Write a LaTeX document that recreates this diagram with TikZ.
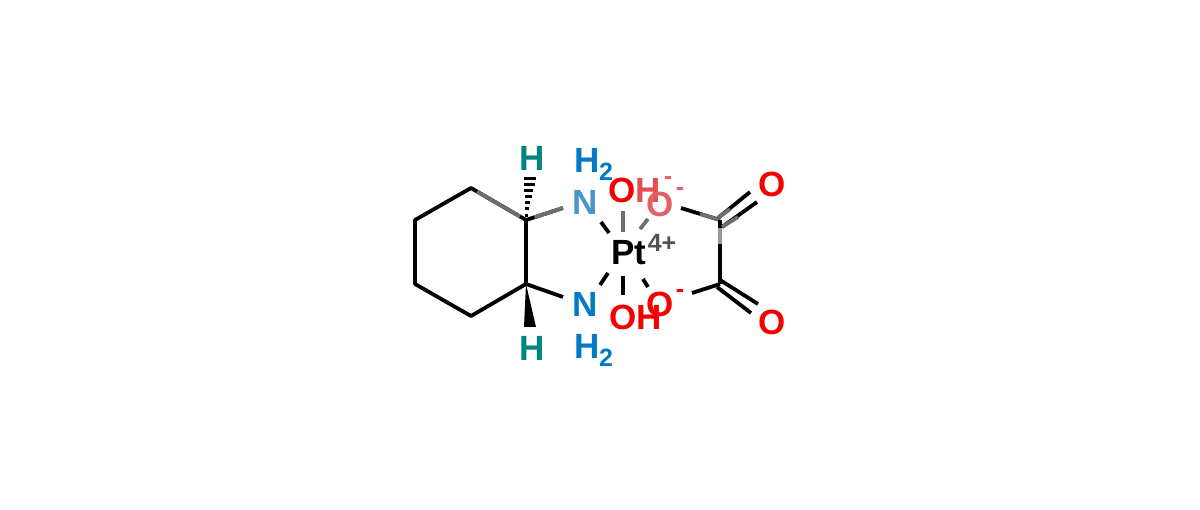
\documentclass[tikz,border=0pt]{standalone}
\usepackage{fontspec}
\usetikzlibrary{calc}
\setmainfont{Liberation Sans}
\definecolor{atomred}{RGB}{245,0,0}
\definecolor{fadedred}{RGB}{226,96,102}
\definecolor{atomblue}{RGB}{0,122,197}
\definecolor{fadedblue}{RGB}{70,150,200}
\definecolor{atomteal}{RGB}{0,132,126}
\definecolor{fadedbond}{RGB}{110,110,110}
\tikzset{
  x=1pt,y=-1pt,
  bond/.style={line width=3.8pt,line cap=butt,line join=round,black},
  fadebond/.style={line width=3.8pt,line cap=butt,fadedbond},
  atom/.style={inner sep=0pt,font=\fontsize{35}{35}\selectfont\bfseries},
  small/.style={inner sep=0pt,font=\fontsize{25}{25}\selectfont\bfseries},
  ends/.style 2 args={shorten <=#1pt,shorten >=#2pt},
}
\begin{document}
\begin{tikzpicture}
\useasboundingbox (0,0) rectangle (1200,510);
\fill[white] (0,0) rectangle (1200,510);
% ring atoms
\coordinate (C1) at (526,220);
\coordinate (C2) at (526,284);
\coordinate (C3) at (471,316);
\coordinate (C4) at (415,284);
\coordinate (C5) at (415,220);
\coordinate (C6) at (471,188);
\coordinate (C7) at (720,220);
\coordinate (C8) at (720,284);
% labels
\node[atom,text=atomteal] (HA) at (532,158) {H};
\node[atom,text=atomteal] (HB) at (532,348) {H};
\node[atom,text=fadedblue] (N1) at (585,202) {N};
\node[atom,text=atomblue] (N2) at (585,304) {N};
\node[atom,text=atomblue] (H2a) at (587,160) {H};
\node[small,text=atomblue] (H2an) at (606,172) {2};
\node[atom,text=atomblue] (H2b) at (587,346) {H};
\node[small,text=atomblue] (H2bn) at (606,358) {2};
\node[atom] (Pt) at (629,253) {Pt};
\node[small,text=black!68] (PtC) at (662,243) {4+};
\node[atom,text=atomred] (OH1) at (635,190) {O\textcolor{fadedred!80!atomred}{H}};
\node[small,text=fadedred] (OH1m) at (668,181) {-};
\node[atom,text=atomred] (OH2) at (636,317) {OH};
\node[atom,text=fadedred] (O1) at (660,204) {O};
\node[small,text=fadedred] (O1m) at (680,192) {-};
\node[atom,text=atomred] (O2) at (660,304) {O};
\node[small,text=atomred] (O2m) at (680,294) {-};
\node[atom,text=atomred] (O3) at (772,184) {O};
\node[atom,text=atomred] (O4) at (772,322) {O};
% ring
\draw[bond] (C1) -- (C2) -- (C3) -- (C4) -- (C5) -- (C6) -- cycle;
\draw[fadebond,ends={7}{7}] (C6) -- (C1);
% stereo wedges
\fill[black] (C2) -- ([shift={(-8,-21)}]HB.center) -- ([shift={(4,-21)}]HB.center) -- cycle;
\foreach \t/\w in {0.08/1.2,0.18/2.0,0.28/2.8,0.38/3.6,0.48/4.4,0.58/5.2,0.67/6.2}{
  \fill[black] ($(C1)!\t!(HA.center)$) ++(-\w,-1.5) rectangle ++(2*\w,3);
}
% amine bonds
\draw[bond] (C1) -- ([shift={(-22,6)}]N1.center);
\draw[fadebond,ends={9}{0}] (C1) -- ([shift={(-22,6)}]N1.center);
\draw[bond] (C2) -- ([shift={(-22,-7)}]N2.center);
% platinum coordination (short dashes)
\draw[bond] ([shift={(-28,-31)}]Pt.center) -- ([shift={(-20,-20)}]Pt.center);
\draw[bond] ([shift={(-21,20)}]Pt.center) -- ([shift={(-29,32)}]Pt.center);
\draw[fadebond] ([shift={(-6,-42)}]Pt.center) -- ([shift={(-6,-21)}]Pt.center);
\draw[bond] ([shift={(-6,23)}]Pt.center) -- ([shift={(-6,42)}]Pt.center);
\draw[fadebond] ([shift={(19,-34)}]Pt.center) -- ([shift={(11,-24)}]Pt.center);
\draw[bond] ([shift={(14,26)}]Pt.center) -- ([shift={(19,34)}]Pt.center);
% oxalate
\draw[bond] ([shift={(21,4)}]O1.center) -- (C7);
\draw[fadebond] ([shift={(40,10)}]O1.center) -- (C7);
\draw[bond] ([shift={(32,-11)}]O2.center) -- (C8);
\draw[bond] (C7) -- (C8);
\draw[fadebond,draw=black!40,ends={8}{40}] (C7) -- (C8);
\draw[bond] ([shift={(-2,-2)}]C7) -- ([shift={(-22,8)}]O3.center);
\draw[bond] ([shift={(2,7)}]C7) -- ([shift={(-15,18)}]O3.center);
\draw[fadebond] ([shift={(-2,-2)}]C7) -- ([shift={(10,-11)}]C7);
\draw[fadebond] ([shift={(2,7)}]C7) -- ([shift={(18,-3)}]C7);
\draw[bond] ([shift={(0,-4)}]C8) -- ([shift={(-14,-18)}]O4.center);
\draw[bond] ([shift={(-3,3)}]C8) -- ([shift={(-21,-9)}]O4.center);
\end{tikzpicture}
\end{document}
